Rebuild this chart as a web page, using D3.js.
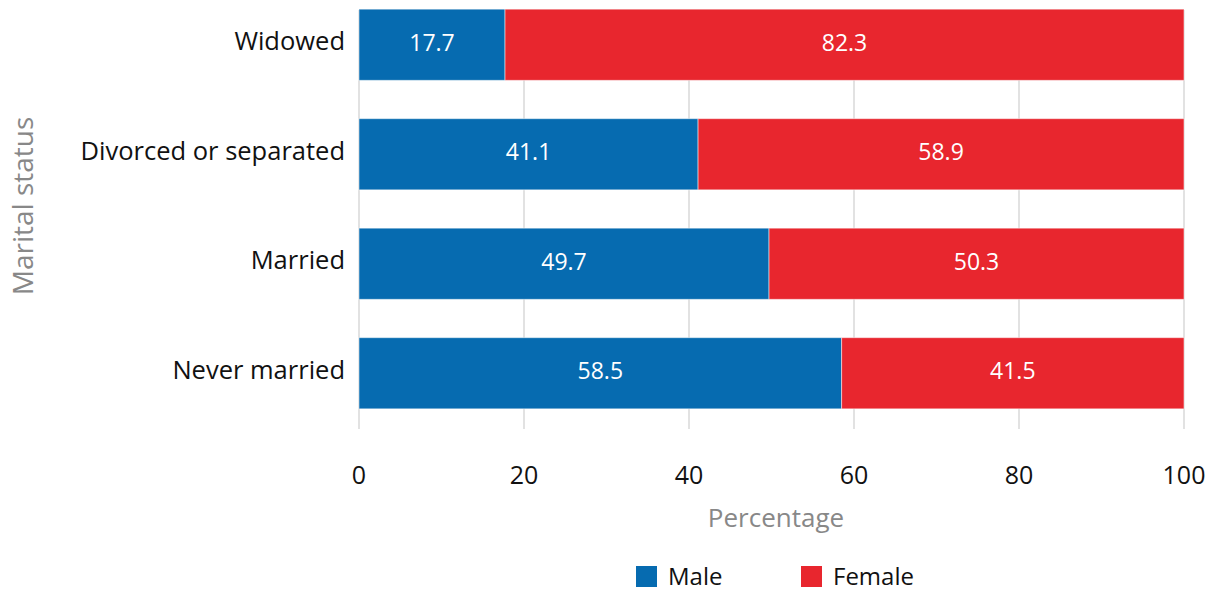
<!DOCTYPE html>
<html><head><meta charset="utf-8">
<script src="https://cdn.jsdelivr.net/npm/d3@7"></script>
<style>body{margin:0;background:#fff}svg{display:block}</style>
</head><body>
<svg id="c" width="1218" height="592"></svg>
<script>
const categories = ["Widowed", "Divorced or separated", "Married", "Never married"];
const male = [17.7, 41.1, 49.7, 58.5];
const female = [82.3, 58.9, 50.3, 41.5];
const seriesNames = ["Male", "Female"];
const xTicks = [0, 20, 40, 60, 80, 100];

const colors = {Male: "#066bb0", Female: "#e8262e"};
const font = "'Open Sans', sans-serif";
const svg = d3.select("#c");
const x = d3.scaleLinear().domain([0, 100]).range([359, 1184]);
const y = d3.scaleBand().domain(categories).range([-10, 428]).paddingInner(0.35).paddingOuter(0.175);

// gridlines
svg.append("g").selectAll("line").data(xTicks).join("line")
  .attr("x1", d => x(d)).attr("x2", d => x(d)).attr("y1", 10).attr("y2", 429)
  .attr("stroke", "#d9d9d9").attr("stroke-width", 1.5);

const rows = categories.map((c, i) => ({c, Male: male[i], Female: female[i]}));
const stack = d3.stack().keys(seriesNames)(rows);

stack.forEach(s => {
  const g = svg.append("g");
  g.selectAll("rect").data(s).join("rect")
    .attr("x", d => x(d[0])).attr("width", d => x(d[1]) - x(d[0]))
    .attr("y", d => y(d.data.c)).attr("height", y.bandwidth())
    .attr("fill", colors[s.key]).attr("stroke", "#ffffff").attr("stroke-opacity", 0.5).attr("stroke-width", 1);
  g.selectAll("text").data(s).join("text")
    .attr("x", d => (x(d[0]) + x(d[1])) / 2).attr("y", d => y(d.data.c) + y.bandwidth() / 2 + 6)
    .attr("text-anchor", "middle")
    .attr("fill", "#fff").style("font-family", font).style("font-size", "23px")
    .text(d => (d[1] - d[0]).toFixed(1));
});

// category labels
svg.append("g").selectAll("text").data(categories).join("text")
  .attr("x", 345).attr("y", d => y(d) + y.bandwidth() / 2 + 5.5)
  .attr("text-anchor", "end").attr("fill", "#111")
  .style("font-family", font).style("font-size", "25.5px").text(d => d);

// x tick labels
svg.append("g").selectAll("text").data(xTicks).join("text")
  .attr("x", d => x(d)).attr("y", 484).attr("text-anchor", "middle").attr("fill", "#111")
  .style("font-family", font).style("font-size", "25px").text(d => d);

// axis titles
svg.append("text").attr("x", 776).attr("y", 527).attr("text-anchor", "middle")
  .attr("fill", "#888").style("font-family", font).style("font-size", "26px").text("Percentage");
svg.append("text").attr("transform", "translate(33,206) rotate(-90)").attr("text-anchor", "middle")
  .attr("fill", "#888").style("font-family", font).style("font-size", "28px").text("Marital status");

// legend
const legX = [636, 801];
const lg = svg.append("g").selectAll("g").data(seriesNames).join("g")
  .attr("transform", (d, i) => `translate(${legX[i]},566)`);
lg.append("rect").attr("width", 21).attr("height", 21).attr("fill", d => colors[d]);
lg.append("text").attr("x", 32).attr("y", 19).attr("fill", "#111")
  .style("font-family", font).style("font-size", "24px").text(d => d);
</script>
</body></html>
